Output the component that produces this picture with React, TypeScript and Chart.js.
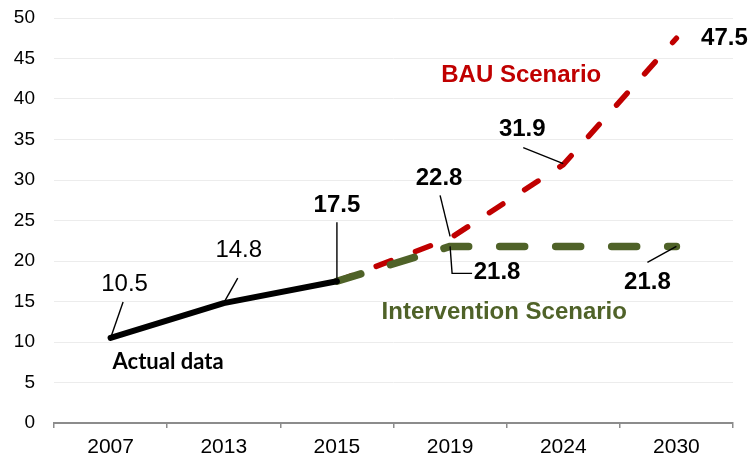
import React, { useEffect, useRef } from "react";
import { Chart, registerables } from "chart.js";

Chart.register(...registerables);

const categories = ["2007", "2013", "2015", "2019", "2024", "2030"];
const actualValues = [10.5, 14.8, 17.5, null, null, null];
const bauValues = [null, null, 17.5, 22.8, 31.9, 47.5];
const interventionValues = [null, null, 17.5, 21.8, 21.8, 21.8];
const yMin = 0;
const yMax = 50;
const yStep = 5;

// value labels: dataset index, point index, text
const valueLabels = [
  { ds: 0, idx: 0, text: "10.5", bold: false },
  { ds: 0, idx: 1, text: "14.8", bold: false },
  { ds: 0, idx: 2, text: "17.5", bold: true },
  { ds: 2, idx: 3, text: "22.8", bold: true },
  { ds: 1, idx: 3, text: "21.8", bold: true },
  { ds: 2, idx: 4, text: "31.9", bold: true },
  { ds: 2, idx: 5, text: "47.5", bold: true },
  { ds: 1, idx: 5, text: "21.8", bold: true },
];

// label placement (pixel offsets from the point) and leader paths
const labelPlacement = [
  { dx: 14, dy: -54, leader: [[12.5, -36], [0, 0]] },
  { dx: 15, dy: -53, leader: [[14, -25], [1, -2]] },
  { dx: 0, dy: -76, leader: [[0, -59], [0, -3]] },
  { dx: -11, dy: -60, leader: [[-10, -43], [0, -2]] },
  { dx: 47, dy: 26, leader: [[0, 0], [2, 27], [22, 27]] },
  { dx: -41, dy: -35, leader: [[-40, -17], [0, -1]] },
  { dx: 48, dy: 0, leader: null },
  { dx: -29, dy: 36, leader: [[-29, 16], [0, 0]] },
];

const seriesNames = [
  { ds: 0, idx: 0, text: "Actual data", color: "#000000", font: "bold 22px Lato", dx: 57.5, dy: 24 },
  { ds: 2, idx: 4, text: "BAU Scenario", color: "#c00000", font: "bold 24px 'Liberation Sans'", dx: -42, dy: -89.5 },
  { ds: 1, idx: 4, text: "Intervention Scenario", color: "#4f6228", font: "bold 24px 'Liberation Sans'", dx: -59, dy: 66 },
];

const annotationPlugin = {
  id: "annotations",
  afterDatasetsDraw(chart: any) {
    const ctx = chart.ctx;
    ctx.save();
    valueLabels.forEach((l, i) => {
      const p = chart.getDatasetMeta(l.ds).data[l.idx];
      const pl = labelPlacement[i];
      if (pl.leader) {
        ctx.beginPath();
        ctx.strokeStyle = "#000";
        ctx.lineWidth = 1.4;
        pl.leader.forEach((pt: number[], k: number) => {
          const x = p.x + pt[0];
          const y = p.y + pt[1];
          if (k === 0) ctx.moveTo(x, y);
          else ctx.lineTo(x, y);
        });
        ctx.stroke();
      }
      ctx.fillStyle = "#000";
      ctx.font = (l.bold ? "bold " : "") + "24px 'Liberation Sans'";
      ctx.textAlign = "center";
      ctx.textBaseline = "middle";
      ctx.fillText(l.text, p.x + pl.dx, p.y + pl.dy);
    });
    seriesNames.forEach((s) => {
      const p = chart.getDatasetMeta(s.ds).data[s.idx];
      ctx.fillStyle = s.color;
      ctx.font = s.font;
      ctx.textAlign = "center";
      ctx.textBaseline = "middle";
      ctx.fillText(s.text, p.x + s.dx, p.y + s.dy);
    });
    ctx.restore();
  },
};

export default function App() {
  const ref = useRef<HTMLCanvasElement | null>(null);
  useEffect(() => {
    document.body.style.margin = "0";
    const canvas = ref.current!;
    const chart = new Chart(canvas, {
      type: "line",
      data: {
        labels: categories,
        datasets: [
          {
            label: "Actual data",
            data: actualValues,
            borderColor: "#000000",
            borderWidth: 6,
            borderCapStyle: "round",
            borderJoinStyle: "round",
            pointRadius: 0,
            tension: 0,
          },
          {
            label: "Intervention Scenario",
            data: interventionValues,
            borderColor: "#4f6228",
            borderWidth: 7.5,
            borderDash: [25, 31],
            borderDashOffset: 0,
            borderCapStyle: "round",
            borderJoinStyle: "round",
            pointRadius: 0,
            tension: 0,
          },
          {
            label: "BAU Scenario",
            data: bauValues,
            borderColor: "#c00000",
            borderWidth: 5.5,
            borderDash: [16, 26],
            borderDashOffset: 0,
            borderCapStyle: "round",
            borderJoinStyle: "round",
            pointRadius: 0,
            tension: 0,
          },
        ],
      },
      options: {
        responsive: false,
        animation: false,
        devicePixelRatio: 1,
        layout: { padding: { top: 18, right: 21, left: 0, bottom: 0 } },
        plugins: { legend: { display: false }, tooltip: { enabled: false } },
        scales: {
          x: {
            type: "category",
            offset: true,
            afterFit: (s: any) => {
              s.height = 34;
              s.paddingLeft = 0;
              s.paddingRight = 0;
            },
            border: { display: true, color: "#8c8c8c", width: 2 },
            grid: {
              display: true,
              offset: true,
              drawOnChartArea: false,
              drawTicks: true,
              tickLength: 5,
              color: "#8c8c8c",
              lineWidth: 1.5,
            },
            ticks: {
              color: "#000",
              font: { family: "'Liberation Sans'", size: 21 },
              padding: 7,
              maxRotation: 0,
              autoSkip: false,
            },
          },
          y: {
            min: yMin,
            max: yMax,
            afterFit: (s: any) => {
              s.width = 54;
              s.paddingTop = 0;
              s.paddingBottom = 0;
            },
            border: { display: false },
            grid: { color: "#ececec", lineWidth: 1, drawTicks: false },
            ticks: {
              stepSize: yStep,
              color: "#000",
              font: { family: "'Liberation Sans'", size: 19 },
              padding: 19,
            },
          },
        },
      },
      plugins: [annotationPlugin],
    });
    return () => chart.destroy();
  }, []);
  return (
    <div style={{ width: 754, height: 457, position: "relative" }}>
      <canvas ref={ref} width={754} height={457} style={{ width: 754, height: 457 }} />
    </div>
  );
}
